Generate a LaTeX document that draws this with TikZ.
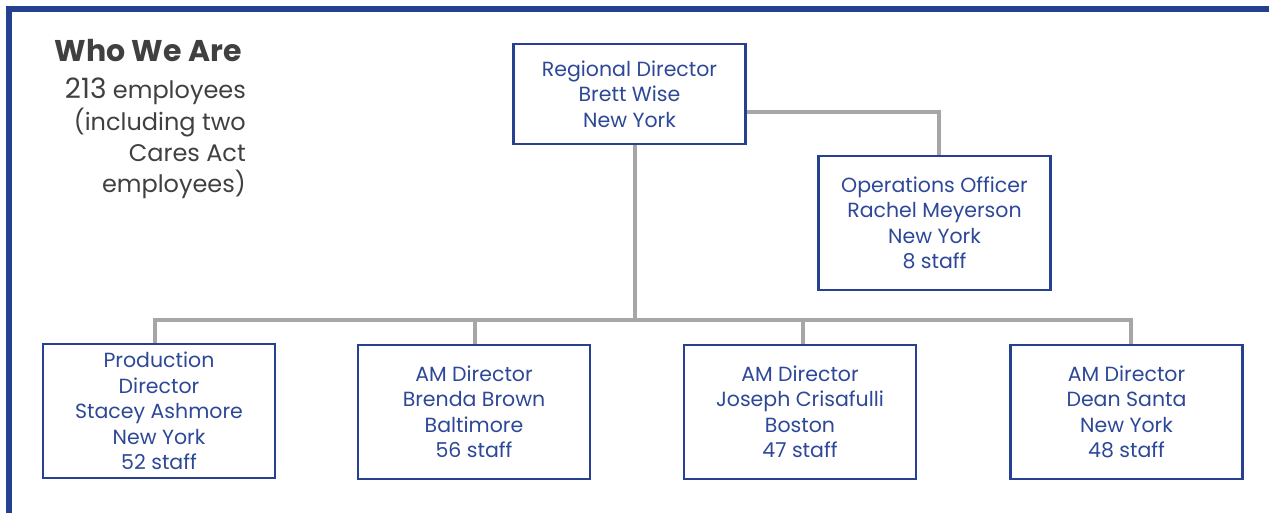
\documentclass[tikz,border=0pt]{standalone}
\usepackage{fontspec}
\setmainfont{Poppins}
\definecolor{blueT}{RGB}{46,72,152}
\definecolor{blueB}{RGB}{40,64,146}
\definecolor{frameB}{RGB}{36,64,143}
\definecolor{conn}{RGB}{166,166,166}
\definecolor{darkT}{RGB}{64,64,64}
\tikzset{
  orgbox/.style={draw=blueB, line width=2.6pt, fill=white, text=blueT, align=center,
    inner sep=0pt, minimum width=232pt, font=\fontsize{20.5}{25.5}\selectfont},
  link/.style={draw=conn, line width=3.2pt},
  lefttext/.style={text=darkT, anchor=base east, inner sep=0pt, font=\fontsize{24}{30}\selectfont}
}
\begin{document}
\begin{tikzpicture}[x=1pt,y=-1pt]
\useasboundingbox (0,0) rectangle (1269,513);
% frame
\fill[frameB] (6,6) rectangle (1269,12);
\fill[frameB] (6,6) rectangle (12,513);

% left text
\node[text=darkT, anchor=base east, inner sep=0pt, font=\fontsize{30}{36}\selectfont\bfseries] (title) at (242,62) {Who We Are};
\node[lefttext] (l1) at (246,99) {{\fontsize{28}{30}\selectfont 213} employees};
\node[lefttext] (l2) at (246,131) {(including two};
\node[lefttext] (l3) at (246,162) {Cares Act};
\node[lefttext] (l4) at (246,193) {employees)};

% boxes
\node[orgbox, minimum height=100pt] (rd) at (629.5,94) {Regional Director\\Brett Wise\\New York};
\node[orgbox, minimum height=134pt] (ops) at (934.5,223) {Operations Officer\\Rachel Meyerson\\New York\\8 staff};
\node[orgbox, minimum height=134pt] (prod) at (159,411) {Production\\Director\\Stacey Ashmore\\New York\\52 staff};
\node[orgbox, minimum height=134pt] (bb) at (474,412) {AM Director\\Brenda Brown\\Baltimore\\56 staff};
\node[orgbox, minimum height=134pt] (jc) at (800,412) {AM Director\\Joseph Crisafulli\\Boston\\47 staff};
\node[orgbox, minimum height=134pt] (ds) at (1126.5,412) {AM Director\\Dean Santa\\New York\\48 staff};

% connector points
\coordinate (bus) at (635,320);
\coordinate (d1) at (155,320);
\coordinate (d2) at (475,320);
\coordinate (d3) at (803,320);
\coordinate (d4) at (1131,320);
\coordinate (k) at (939,112);

\draw[link] (bus |- rd.south) -- (bus);
\draw[link, line cap=rect] (d1) -- (d4);
\draw[link] (d1) -- (d1 |- prod.north);
\draw[link] (d2) -- (d2 |- bb.north);
\draw[link] (d3) -- (d3 |- jc.north);
\draw[link] (d4) -- (d4 |- ds.north);
\draw[link] (k -| rd.east) -- (k) -- (k |- ops.north);
\end{tikzpicture}
\end{document}
